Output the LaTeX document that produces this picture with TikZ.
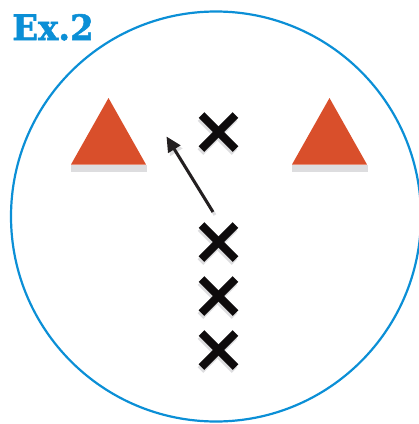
\documentclass[tikz,border=0pt]{standalone}
\usepackage{fontspec}
\usepackage{xcolor}
\usepackage{tikz}
\usetikzlibrary{arrows.meta,calc}
\newfontfamily\exfont[BoldFeatures={FakeBold=1.5}]{DejaVu Serif}
\definecolor{FieldBlue}{HTML}{0B8FD6}
\definecolor{ConeRed}{HTML}{D94F2B}
\definecolor{ShadowGray}{HTML}{DDDDDF}
\definecolor{MarkBlack}{HTML}{0E0B0C}
\definecolor{ArrowDark}{HTML}{231F20}

\begin{document}
\begin{tikzpicture}[x=1pt,y=-1pt]
  \tikzset{
    field/.style={draw=FieldBlue, line width=2.2pt},
    cone/.style={fill=ConeRed},
    coneshadow/.style={fill=ShadowGray},
    cross/.style={draw=MarkBlack, line width=8pt},
    crossshadow/.style={draw=ShadowGray, line width=8pt},
    run/.style={-{Triangle[length=15pt,width=14pt]}, line width=3pt, ArrowDark},
    runshadow/.style={-{Triangle[length=15pt,width=14pt]}, line width=3pt, ShadowGray},
    title/.style={anchor=base west, inner sep=0pt, text=FieldBlue,
      font=\exfont\bfseries\fontsize{35}{35}\selectfont}
  }
  \useasboundingbox (0,0) rectangle (419,424);
  \clip (0,0) rectangle (419,424);

  \draw[field] (216,216.5) circle[radius=205];
  \node[title] (ex) at (12,40) {\scalebox{0.97}[1]{Ex.2}};

  % cones
  \foreach \cx/\nm in {108.5/left,329.5/right}{
    \fill[coneshadow] (\cx-37.5,165) rectangle (\cx+38.5,172);
    \coordinate (cone-\nm) at (\cx,98);
    \fill[cone] (cone-\nm) -- ++(-37.5,66.5) -- ++(75,0) -- cycle;
  }

  % players
  \foreach \cy/\nm in {132/a,242/b,296/c,350/d}{
    \coordinate (player-\nm) at (218.5,\cy);
    \draw[crossshadow] ($(player-\nm)+(-18,-14)$) -- ($(player-\nm)+(16,20)$);
    \draw[crossshadow] ($(player-\nm)+(16,-14)$) -- ($(player-\nm)+(-18,20)$);
    \draw[cross] ($(player-\nm)+(-17,-17)$) -- ($(player-\nm)+(17,17)$);
    \draw[cross] ($(player-\nm)+(17,-17)$) -- ($(player-\nm)+(-17,17)$);
  }

  % run
  \coordinate (runstart) at (213,212);
  \coordinate (runend) at (166.5,136.5);
  \draw[runshadow] ($(runstart)+(2,3)$) -- ($(runend)+(2,3)$);
  \draw[run] (runstart) -- (runend);
\end{tikzpicture}
\end{document}
